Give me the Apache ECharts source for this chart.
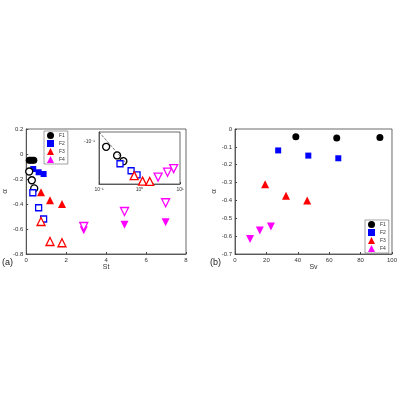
<!DOCTYPE html><html><head><meta charset="utf-8"><script src="https://cdn.jsdelivr.net/npm/echarts@6/dist/echarts.min.js"></script></head><body style="margin:0"><div id="c" style="width:400px;height:400px"></div><script>
const F1a=[[0.15,-0.05],[0.22,-0.05],[0.3,-0.05],[0.38,-0.05]];
const F1o=[[0.15,-0.14],[0.28,-0.21],[0.4,-0.275]];
const F2a=[[0.35,-0.12],[0.62,-0.146],[0.87,-0.16]];
const F2o=[[0.33,-0.31],[0.62,-0.43],[0.87,-0.52]];
const F3a=[[0.74,-0.305],[1.19,-0.37],[1.79,-0.40]];
const F3o=[[0.74,-0.54],[1.19,-0.70],[1.79,-0.71]];
const F4a=[[2.88,-0.61],[4.92,-0.565],[6.98,-0.545]];
const F4o=[[2.88,-0.58],[4.92,-0.46],[6.98,-0.39]];
const B1=[[38.75,-0.043],[64.8,-0.05],[92.3,-0.048]];
const B2=[[27.5,-0.12],[46.7,-0.149],[65.8,-0.164]];
const B3=[[19.2,-0.31],[32.5,-0.374],[46,-0.40]];
const B4=[[9.6,-0.616],[15.8,-0.568],[22.9,-0.546]];
const names=['F1','F2','F3','F4'],cols=['#000','#0000ff','#ff0000','#ff00ff'];
const sym=['circle','rect','triangle','triangle'],rot=[0,0,0,180],sz=[7,6,8,8];
const ax={axisLine:{onZero:false,lineStyle:{color:'#444',width:0.8}},axisTick:{inside:true,length:2,lineStyle:{color:'#444'}},axisLabel:{fontSize:6,color:'#333',margin:3},splitLine:{show:false}};
function axis(o){return Object.assign({},JSON.parse(JSON.stringify(ax)),o);}
const series=[];
function add(data,i,g,open,name){series.push({type:'scatter',name:name,xAxisIndex:g,yAxisIndex:g,data:data,symbol:sym[i],symbolRotate:rot[i],symbolSize:sz[i],
 itemStyle:open?{color:'#fff',borderColor:cols[i],borderWidth:1.3,opacity:1}:{color:cols[i],opacity:1}});}
[F1a,F2a,F3a,F4a].forEach((d,i)=>add(d,i,0,false,names[i]));
[F1o,F2o,F3o,F4o].forEach((d,i)=>add(d,i,0,true,names[i]+'o'));
[B1,B2,B3,B4].forEach((d,i)=>add(d,i,1,false,names[i]));
[F1o,F2o,F3o,F4o].forEach((d,i)=>add(d.map(p=>[p[0],-p[1]]),i,2,true,names[i]+'i'));
series.push({type:'line',xAxisIndex:2,yAxisIndex:2,data:[[0.1,0.07],[0.47,0.3]],symbol:'none',lineStyle:{type:'dashed',color:'#333',width:0.7}});
const gb={show:true,borderColor:'#444',borderWidth:0.8,backgroundColor:'transparent'};
const opt={animation:false,
grid:[Object.assign({left:26,top:129,width:160,height:125},gb),Object.assign({left:235,top:129,width:160,height:125},gb),Object.assign({left:99,top:132,width:81,height:52},gb,{backgroundColor:'#fff'})],
xAxis:[axis({gridIndex:0,min:0,max:8,interval:2,name:'St',nameLocation:'middle',nameGap:10,nameTextStyle:{fontSize:7,color:'#333'}}),
 axis({gridIndex:1,min:0,max:100,interval:20,name:'Sv',nameLocation:'middle',nameGap:10,nameTextStyle:{fontSize:7,color:'#333'}}),
 axis({gridIndex:2,type:'log',min:0.1,max:10,axisLabel:{fontSize:5,color:'#333',margin:3,formatter:v=>v<0.5?'10⁻¹':(v<5?'10⁰':'10¹')}})],
yAxis:[axis({gridIndex:0,min:-0.8,max:0.2,interval:0.2,name:'α',nameLocation:'middle',nameGap:17,nameTextStyle:{fontSize:8,color:'#333'}}),
 axis({gridIndex:1,min:-0.7,max:0,interval:0.1,name:'α',nameLocation:'middle',nameGap:17,nameTextStyle:{fontSize:8,color:'#333'}}),
 axis({gridIndex:2,type:'log',inverse:true,min:0.07,max:0.8,axisLabel:{show:false},axisTick:{show:false}})],
legend:[{data:names,left:44,top:131,orient:'vertical',itemWidth:7,itemHeight:7,itemGap:1,textStyle:{fontSize:5,color:'#333'},
 backgroundColor:'#fff',borderColor:'#444',borderWidth:0.5,padding:[1,3]},
 {data:names,left:365,top:220,orient:'vertical',itemWidth:7,itemHeight:7,itemGap:1,textStyle:{fontSize:5,color:'#333'},borderColor:'#444',borderWidth:0.5,padding:[1,3],backgroundColor:'#fff'}],
graphic:[{type:'text',left:2,top:258,style:{text:'(a)',fontSize:9,fill:'#222'}},{type:'text',left:210,top:258,style:{text:'(b)',fontSize:9,fill:'#222'}},
 {type:'text',left:84,top:139,style:{text:'-10⁻¹',fontSize:5,fill:'#333'}}],
series:series};
const ch=echarts.init(document.getElementById('c'));ch.setOption(opt);
</script></body></html>
